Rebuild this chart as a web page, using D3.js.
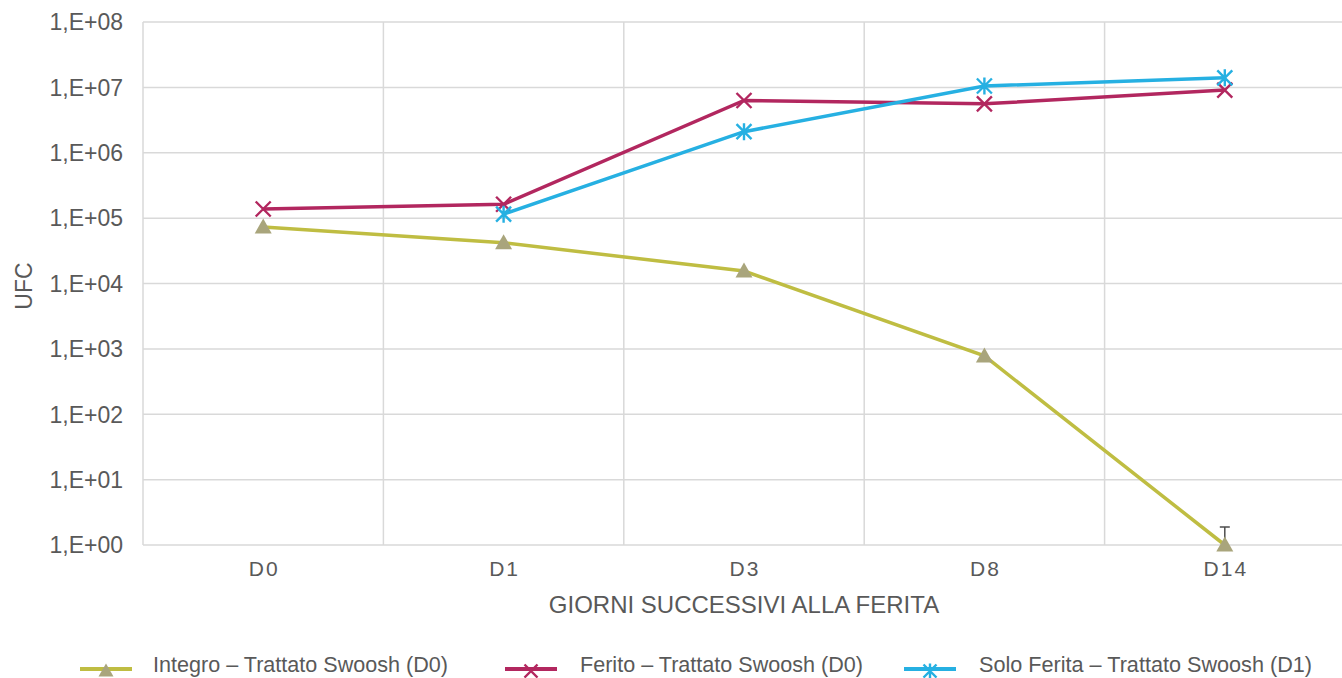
<!DOCTYPE html>
<html>
<head>
<meta charset="utf-8">
<script src="https://cdn.jsdelivr.net/npm/d3@7"></script>
<style>
  body { margin: 0; background: #fff; }
  text { font-family: "Liberation Sans", Arial, sans-serif; fill: #595959; }
</style>
</head>
<body>
<svg id="chart" width="1342" height="678"></svg>
<script>
const days = ["D0", "D1", "D3", "D8", "D14"];
const integro = [7.3e4, 4.2e4, 1.55e4, 780, 1];
const ferito = [1.38e5, 1.63e5, 6.3e6, 5.6e6, 9.1e6];
const soloFerita = [null, 1.15e5, 2.1e6, 1.05e7, 1.4e7];
const yTicks = [1, 10, 100, 1e3, 1e4, 1e5, 1e6, 1e7, 1e8];
const seriesNames = ["Integro – Trattato Swoosh (D0)", "Ferito – Trattato Swoosh (D0)", "Solo Ferita – Trattato Swoosh (D1)"];

const svg = d3.select("#chart");
const plotL = 143, plotR = 1345, plotT = 22, plotB = 545;

let x = d3.scaleBand().domain(days).range([plotL, plotR]);
let y = d3.scaleLog().domain([1, 1e8]).range([plotB, plotT]);

const grid = svg.append("g");
grid.selectAll(".h").data(yTicks).join("line")
    .attr("x1", plotL).attr("x2", plotR)
    .attr("y1", d => y(d)).attr("y2", d => y(d))
    .attr("stroke", "#d9d9d9").attr("stroke-width", 1.5);
grid.selectAll(".v").data(days).join("line")
    .attr("x1", d => x(d)).attr("x2", d => x(d))
    .attr("y1", plotT).attr("y2", plotB)
    .attr("stroke", "#d9d9d9").attr("stroke-width", 1.5);

// y axis labels
let fmt = d => "1,E+" + String(Math.round(Math.log10(d))).padStart(2, "0");
let yAxis = d3.axisLeft(y).tickValues(yTicks).tickFormat(fmt).tickSize(0).tickPadding(20);
let ya = svg.append("g").attr("transform", `translate(${plotL},0)`).call(yAxis);
ya.select(".domain").remove();
ya.selectAll("text").attr("font-size", 23).attr("dy", "0.34em").style("fill", "#595959")
    .attr("font-family", "Liberation Sans, Arial, sans-serif");

let xAxis = d3.axisBottom(x).tickSize(0).tickPadding(16);
let xa = svg.append("g").attr("transform", `translate(0,${plotB})`).call(xAxis);
xa.select(".domain").remove();
xa.selectAll("text").attr("font-size", 21).attr("letter-spacing", 2).attr("dx", 1).style("fill", "#595959")
    .attr("font-family", "Liberation Sans, Arial, sans-serif");

svg.append("text").attr("x", 744).attr("y", 613)
    .attr("text-anchor", "middle").attr("font-size", 24).text("GIORNI SUCCESSIVI ALLA FERITA");
svg.append("text").attr("transform", "translate(32,286) rotate(-90)")
    .attr("text-anchor", "middle").attr("font-size", 23).text("UFC");

const cx = d => x(d) + x.bandwidth() / 2;

const series = [
  { name: seriesNames[0], values: integro, color: "#bfbd42", marker: "tri", mcolor: "#a9a57c" },
  { name: seriesNames[1], values: ferito, color: "#b2275f", marker: "x", mcolor: "#b2275f" },
  { name: seriesNames[2], values: soloFerita, color: "#26b0e2", marker: "star", mcolor: "#26b0e2" }
];

let line = d3.line().defined(d => d.v != null).x(d => cx(d.day)).y(d => y(d.v));

function drawMarker(g, type, color, px, py, s) {
  if (type === "tri") {
    g.append("path").attr("d", `M${px - s - 1},${py + s - 1}L${px + s + 1},${py + s - 1}L${px},${py - s - 1}Z`).attr("fill", color);
  } else if (type === "x") {
    g.append("path").attr("d", `M${px - s},${py - s}L${px + s},${py + s}M${px - s},${py + s}L${px + s},${py - s}`)
      .attr("stroke", color).attr("stroke-width", 2.4).attr("fill", "none");
  } else {
    g.append("path").attr("d", `M${px - s},${py - s}L${px + s},${py + s}M${px - s},${py + s}L${px + s},${py - s}M${px},${py - s - 1}L${px},${py + s + 1}`)
      .attr("stroke", color).attr("stroke-width", 2.4).attr("fill", "none");
  }
}

// error bar on the last Integro point
let eb = svg.append("g");
eb.append("line").attr("x1", cx("D14")).attr("x2", cx("D14")).attr("y1", y(integro[4])).attr("y2", y(integro[4]) - 18)
    .attr("stroke", "#4d4d4d").attr("stroke-width", 1.5);
eb.append("line").attr("x1", cx("D14") - 5).attr("x2", cx("D14") + 5).attr("y1", y(integro[4]) - 18).attr("y2", y(integro[4]) - 18)
    .attr("stroke", "#4d4d4d").attr("stroke-width", 1.5);

series.forEach(s => {
  let pts = days.map((d, i) => ({ day: d, v: s.values[i] }));
  svg.append("path").datum(pts).attr("d", line)
    .attr("fill", "none").attr("stroke", s.color).attr("stroke-width", 3.5);
  let mg = svg.append("g");
  pts.filter(p => p.v != null).forEach(p => drawMarker(mg, s.marker, s.mcolor, cx(p.day), y(p.v), 7.5));
});

// legend
const legendX = [80, 505, 904];
const legendLen = [295, 283, 333];
series.forEach((s, i) => {
  let g = svg.append("g").attr("transform", `translate(${legendX[i]},669)`);
  g.append("line").attr("x1", 0).attr("x2", 52).attr("y1", 0).attr("y2", 0)
    .attr("stroke", s.color).attr("stroke-width", 4);
  drawMarker(g, s.marker, s.mcolor, 26, 2, 6.5);
  g.append("text").attr("x", i === 0 ? 73 : 75).attr("y", 3).attr("font-size", 22)
    .attr("textLength", legendLen[i]).attr("lengthAdjust", "spacingAndGlyphs").text(s.name);
});
</script>
</body>
</html>
